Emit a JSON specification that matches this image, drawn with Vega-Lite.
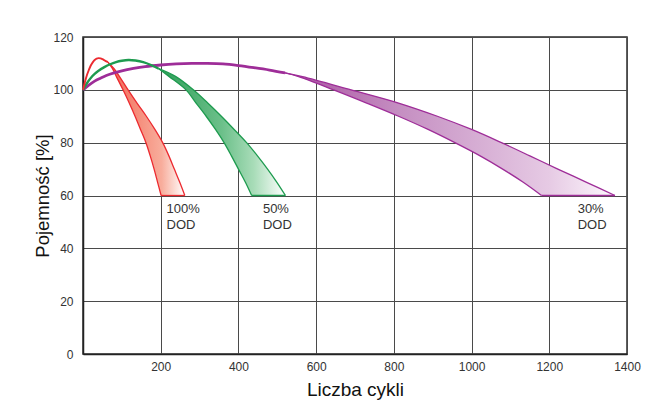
{
  "$schema": "https://vega.github.io/schema/vega-lite/v6.json",
  "width": 544,
  "height": 317,
  "autosize": {"type": "none"},
  "padding": {"left": 83, "top": 37, "right": 36, "bottom": 56},
  "background": "white",
  "datasets": {
    "rise": [
      {"dod": "30%", "x": 0, "y": 100}, {"dod": "30%", "x": 15, "y": 101.8}, {"dod": "30%", "x": 30, "y": 103.3}, {"dod": "30%", "x": 45, "y": 104.4}, {"dod": "30%", "x": 60, "y": 105.4}, {"dod": "30%", "x": 80, "y": 106.4}, {"dod": "30%", "x": 100, "y": 107.2}, {"dod": "30%", "x": 130, "y": 108.1}, {"dod": "30%", "x": 160, "y": 108.8}, {"dod": "30%", "x": 200, "y": 109.4}, {"dod": "30%", "x": 240, "y": 109.8}, {"dod": "30%", "x": 280, "y": 110}, {"dod": "30%", "x": 320, "y": 110}, {"dod": "30%", "x": 360, "y": 109.8}, {"dod": "30%", "x": 400, "y": 109.2}, {"dod": "30%", "x": 440, "y": 108.4}, {"dod": "30%", "x": 480, "y": 107.5}, {"dod": "30%", "x": 520, "y": 106.4},
      {"dod": "50%", "x": 0, "y": 100}, {"dod": "50%", "x": 10, "y": 102.5}, {"dod": "50%", "x": 20, "y": 104.5}, {"dod": "50%", "x": 30, "y": 106}, {"dod": "50%", "x": 40, "y": 107.2}, {"dod": "50%", "x": 55, "y": 108.6}, {"dod": "50%", "x": 70, "y": 109.7}, {"dod": "50%", "x": 85, "y": 110.5}, {"dod": "50%", "x": 100, "y": 111}, {"dod": "50%", "x": 117, "y": 111.3}, {"dod": "50%", "x": 135, "y": 111.1}, {"dod": "50%", "x": 155, "y": 110.5}, {"dod": "50%", "x": 175, "y": 109.4}, {"dod": "50%", "x": 195, "y": 108},
      {"dod": "100%", "x": 0, "y": 100}, {"dod": "100%", "x": 5, "y": 103}, {"dod": "100%", "x": 10, "y": 105.5}, {"dod": "100%", "x": 15, "y": 107.5}, {"dod": "100%", "x": 20, "y": 109.2}, {"dod": "100%", "x": 25, "y": 110.4}, {"dod": "100%", "x": 30, "y": 111.3}, {"dod": "100%", "x": 35, "y": 111.8}, {"dod": "100%", "x": 40, "y": 112}, {"dod": "100%", "x": 45, "y": 111.9}, {"dod": "100%", "x": 50, "y": 111.6}, {"dod": "100%", "x": 55, "y": 111.2}, {"dod": "100%", "x": 60, "y": 110.8}, {"dod": "100%", "x": 64, "y": 110.5}
    ],
    "band": [
      {"dod": "30%", "y": 106.4, "xl": 520, "xr": 520}, {"dod": "30%", "y": 105, "xl": 555, "xr": 565}, {"dod": "30%", "y": 100, "xl": 645, "xr": 690}, {"dod": "30%", "y": 95, "xl": 730, "xr": 812}, {"dod": "30%", "y": 90, "xl": 812, "xr": 912}, {"dod": "30%", "y": 85, "xl": 888, "xr": 1000}, {"dod": "30%", "y": 80, "xl": 957, "xr": 1077}, {"dod": "30%", "y": 75, "xl": 1022, "xr": 1150}, {"dod": "30%", "y": 70, "xl": 1080, "xr": 1222}, {"dod": "30%", "y": 65, "xl": 1133, "xr": 1296}, {"dod": "30%", "y": 60, "xl": 1180, "xr": 1369},
      {"dod": "50%", "y": 108, "xl": 195, "xr": 195}, {"dod": "50%", "y": 105, "xl": 222, "xr": 239}, {"dod": "50%", "y": 100, "xl": 265, "xr": 284}, {"dod": "50%", "y": 95, "xl": 291, "xr": 321}, {"dod": "50%", "y": 90, "xl": 317, "xr": 356}, {"dod": "50%", "y": 85, "xl": 341, "xr": 389}, {"dod": "50%", "y": 80, "xl": 363, "xr": 421}, {"dod": "50%", "y": 75, "xl": 382, "xr": 449}, {"dod": "50%", "y": 70, "xl": 400, "xr": 475}, {"dod": "50%", "y": 65, "xl": 418, "xr": 499}, {"dod": "50%", "y": 60, "xl": 434, "xr": 521},
      {"dod": "100%", "y": 110.5, "xl": 64, "xr": 64}, {"dod": "100%", "y": 108, "xl": 76, "xr": 80}, {"dod": "100%", "y": 105, "xl": 86, "xr": 94}, {"dod": "100%", "y": 100, "xl": 103, "xr": 116}, {"dod": "100%", "y": 95, "xl": 119, "xr": 139}, {"dod": "100%", "y": 90, "xl": 134, "xr": 163}, {"dod": "100%", "y": 85, "xl": 148, "xr": 185}, {"dod": "100%", "y": 80, "xl": 162, "xr": 205}, {"dod": "100%", "y": 75, "xl": 173, "xr": 221}, {"dod": "100%", "y": 70, "xl": 183, "xr": 235}, {"dod": "100%", "y": 65, "xl": 192, "xr": 249}, {"dod": "100%", "y": 60, "xl": 201, "xr": 262}
    ],
    "labels": [
      {"dod": "100%", "x": 215, "y": 55, "label": "100%\nDOD"},
      {"dod": "50%", "x": 463, "y": 55, "label": "50%\nDOD"},
      {"dod": "30%", "x": 1273, "y": 55, "label": "30%\nDOD"}
    ]
  },
  "layer": [
    {
      "data": {"name": "band"},
      "transform": [{"filter": "datum.dod === '30%'"}],
      "mark": {"type": "area", "orient": "horizontal", "interpolate": "catmull-rom",
        "color": {"gradient": "linear", "x1": 0, "y1": 0, "x2": 1, "y2": 0, "stops": [
          {"offset": 0, "color": "#a8509f"}, {"offset": 0.35, "color": "#c58fc2"}, {"offset": 0.8, "color": "#e6cae4"}, {"offset": 1, "color": "#fdf8fd"}]}},
      "encoding": {
        "y": {"field": "y", "type": "quantitative", "title": "Pojemność [%]",
          "scale": {"domain": [0, 120], "nice": false, "zero": true},
          "axis": {"values": [0, 20, 40, 60, 80, 100, 120], "format": "d"}},
        "x": {"field": "xl", "type": "quantitative", "title": "Liczba cykli", "stack": null,
          "scale": {"domain": [0, 1400], "nice": false},
          "axis": {"values": [200, 400, 600, 800, 1000, 1200, 1400], "format": "d"}},
        "x2": {"field": "xr"}
      }
    },
    {
      "data": {"name": "band"},
      "transform": [{"filter": "datum.dod === '50%'"}],
      "mark": {"type": "area", "orient": "horizontal", "interpolate": "catmull-rom",
        "color": {"gradient": "linear", "x1": 0, "y1": 0, "x2": 1, "y2": 0, "stops": [
          {"offset": 0, "color": "#2e9e58"}, {"offset": 0.5, "color": "#6cc08a"}, {"offset": 0.75, "color": "#a8dcb8"}, {"offset": 1, "color": "#ffffff"}]}},
      "encoding": {
        "y": {"field": "y", "type": "quantitative", "title": "Pojemność [%]"},
        "x": {"field": "xl", "type": "quantitative", "title": "Liczba cykli", "stack": null},
        "x2": {"field": "xr"}
      }
    },
    {
      "data": {"name": "band"},
      "transform": [{"filter": "datum.dod === '100%'"}],
      "mark": {"type": "area", "orient": "horizontal", "interpolate": "catmull-rom",
        "color": {"gradient": "linear", "x1": 0, "y1": 0, "x2": 1, "y2": 0, "stops": [
          {"offset": 0, "color": "#f26552"}, {"offset": 0.7, "color": "#f8ad9c"}, {"offset": 1, "color": "#ffffff"}]}},
      "encoding": {
        "y": {"field": "y", "type": "quantitative", "title": "Pojemność [%]"},
        "x": {"field": "xl", "type": "quantitative", "title": "Liczba cykli", "stack": null},
        "x2": {"field": "xr"}
      }
    },
    {
      "data": {"name": "band"},
      "transform": [{"filter": "datum.y === 60"}],
      "mark": {"type": "rule", "strokeWidth": 1.3},
      "encoding": {
        "y": {"field": "y", "type": "quantitative", "title": "Pojemność [%]"},
        "x": {"field": "xl", "type": "quantitative", "title": "Liczba cykli"},
        "x2": {"field": "xr"},
        "color": {"field": "dod", "type": "nominal", "scale": {"domain": ["30%", "50%", "100%"], "range": ["#9e2d98", "#1e9b4f", "#ec2a30"]}, "legend": null}
      }
    },
    {
      "data": {"name": "band"},
      "mark": {"type": "line", "strokeWidth": 1.3, "interpolate": "catmull-rom"},
      "encoding": {
        "y": {"field": "y", "type": "quantitative", "title": "Pojemność [%]"},
        "x": {"field": "xl", "type": "quantitative", "title": "Liczba cykli"},
        "detail": {"field": "dod"},
        "color": {"field": "dod", "type": "nominal", "legend": null}
      }
    },
    {
      "data": {"name": "band"},
      "mark": {"type": "line", "strokeWidth": 1.3, "interpolate": "catmull-rom"},
      "encoding": {
        "y": {"field": "y", "type": "quantitative", "title": "Pojemność [%]"},
        "x": {"field": "xr", "type": "quantitative", "title": "Liczba cykli"},
        "detail": {"field": "dod"},
        "color": {"field": "dod", "type": "nominal", "legend": null}
      }
    },
    {
      "data": {"name": "rise"},
      "mark": {"type": "line", "interpolate": "catmull-rom"},
      "encoding": {
        "y": {"field": "y", "type": "quantitative", "title": "Pojemność [%]"},
        "x": {"field": "x", "type": "quantitative", "title": "Liczba cykli"},
        "color": {"field": "dod", "type": "nominal", "legend": null},
        "strokeWidth": {"field": "dod", "type": "nominal", "scale": {"domain": ["30%", "50%", "100%"], "range": [2.8, 1.9, 1.2]}, "legend": null}
      }
    },
    {
      "data": {"name": "labels"},
      "mark": {"type": "text", "align": "left", "baseline": "middle", "lineBreak": "\n", "lineHeight": 16.5, "fontSize": 13, "color": "#333333", "font": "Liberation Sans"},
      "encoding": {
        "y": {"field": "y", "type": "quantitative", "title": "Pojemność [%]"},
        "x": {"field": "x", "type": "quantitative", "title": "Liczba cykli"},
        "text": {"field": "label"}
      }
    }
  ],
  "config": {
    "font": "Liberation Sans",
    "view": {"stroke": "#2b2b2b", "strokeWidth": 1.5},
    "axis": {
      "domainColor": "#222222",
      "domainWidth": 1.5,
      "gridColor": "#4a4a4a",
      "gridWidth": 1,
      "gridOpacity": 1,
      "ticks": false,
      "labelFont": "Liberation Sans",
      "labelFontSize": 12,
      "labelColor": "#333333",
      "titleFont": "Liberation Sans",
      "titleFontWeight": "normal",
      "titleColor": "#111111",
      "labelFlush": false
    },
    "axisX": {"labelPadding": 7, "titlePadding": 8, "titleFontSize": 19},
    "axisY": {"labelPadding": 10, "titlePadding": 0, "titleFontSize": 18.5}
  }
}
